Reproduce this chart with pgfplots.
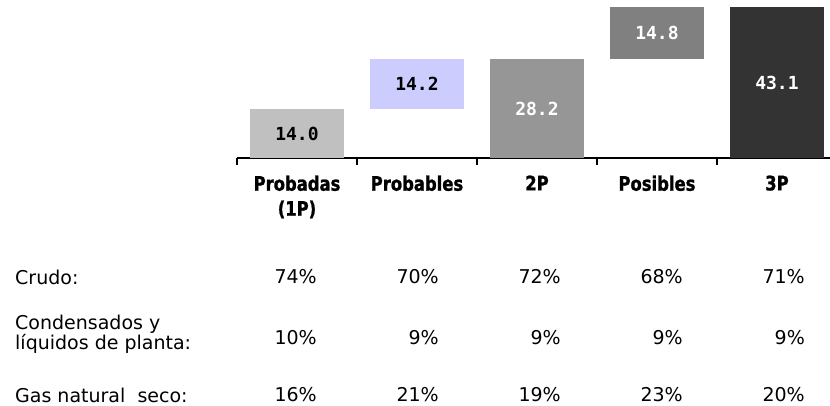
\documentclass[border=0pt]{standalone}
\usepackage{pgfplots}
\pgfplotsset{compat=1.18}
\usepackage{pgfplotstable}
\usepackage{fontspec}
\setmainfont{DejaVu Sans}
\newfontfamily\valfont{DejaVu Sans Mono}
\newfontfamily\catfont{DejaVu Sans}[FakeStretch=0.82, BoldFeatures={FakeBold=1.2}]

\definecolor{cA}{HTML}{C0C0C0}
\definecolor{cB}{HTML}{CCCCFF}
\definecolor{cC}{HTML}{969696}
\definecolor{cD}{HTML}{808080}
\definecolor{cE}{HTML}{333333}

% waterfall: invisible base + visible segments
\pgfplotstableread{
x base v1 v2 v3 v4 v5
0 0 14.0 0 0 0 0
1 14.0 0 14.2 0 0 0
2 0 0 0 28.2 0 0
3 28.2 0 0 0 14.8 0
4 0 0 0 0 0 43.1
}\bars

\pgfplotstableread{
x y lab
0 7.0 14.0
1 21.1 14.2
}\labsdark

\pgfplotstableread{
x y lab
2 14.1 28.2
3 35.6 14.8
4 21.55 43.1
}\labslight

\begin{document}
\begin{tikzpicture}[x=1pt,y=1pt]
\useasboundingbox (0,0) rectangle (830,406);
\begin{axis}[
  at={(237pt,248pt)}, anchor=south west,
  scale only axis, width=593pt, height=151pt,
  xmin=-0.5, xmax=4.442, ymin=0, ymax=43.1,
  clip=false,
  axis x line*=bottom, axis y line=none,
  axis line style={black, line width=2pt},
  ybar stacked, bar width=0.783,
  xtick={-0.5,0.5,1.5,2.5,3.5}, xticklabels={},
  tick align=outside, major tick length=7pt,
  tick style={black, line width=2pt},
  ytick=\empty,
  extra x ticks={0,1,2,3,4},
  extra x tick labels={{Probadas\\(1P)},Probables,2P,Posibles,3P},
  extra x tick style={major tick length=0pt,
    tick label style={font=\catfont\bfseries\fontsize{20}{25}\selectfont, align=center, anchor=north, yshift=-14pt}},
]
\addplot[draw=none, fill=none] table[x=x, y=base] {\bars};
\addplot[draw=none, fill=cA] table[x=x, y=v1] {\bars};
\addplot[draw=none, fill=cB] table[x=x, y=v2] {\bars};
\addplot[draw=none, fill=cC] table[x=x, y=v3] {\bars};
\addplot[draw=none, fill=cD] table[x=x, y=v4] {\bars};
\addplot[draw=none, fill=cE] table[x=x, y=v5] {\bars};
\end{axis}
\begin{axis}[
  at={(237pt,248pt)}, anchor=south west,
  scale only axis, width=593pt, height=151pt,
  xmin=-0.5, xmax=4.442, ymin=0, ymax=43.1,
  clip=false, hide axis,
]
\addplot[draw=none, mark=none, nodes near coords, point meta=explicit symbolic,
  every node near coord/.style={anchor=center, text=black, font=\valfont\bfseries\fontsize{18}{20}\selectfont}]
  table[x=x, y=y, meta=lab] {\labsdark};
\addplot[draw=none, mark=none, nodes near coords, point meta=explicit symbolic,
  every node near coord/.style={anchor=center, text=white, font=\valfont\bfseries\fontsize{18}{20}\selectfont}]
  table[x=x, y=y, meta=lab] {\labslight};
\end{axis}
% composition table
\begin{scope}[every node/.style={font=\fontsize{19}{18}\selectfont, inner sep=0pt}]
\node[anchor=west] at (15,129) {Crudo:};
\node[anchor=west, align=left] at (15,72) {Condensados y\\líquidos de planta:};
\node[anchor=west] at (15,11) {Gas natural\ \ seco:};
\foreach \xx/\a/\b/\c in {317/74/10/16, 439/70/9/21, 561/72/9/19, 683/68/9/23, 805/71/9/20}{
  \node[anchor=east] at (\xx,129) {\a\%};
  \node[anchor=east] at (\xx,68) {\b\%};
  \node[anchor=east] at (\xx,11) {\c\%};
}
\end{scope}
\end{tikzpicture}
\end{document}
